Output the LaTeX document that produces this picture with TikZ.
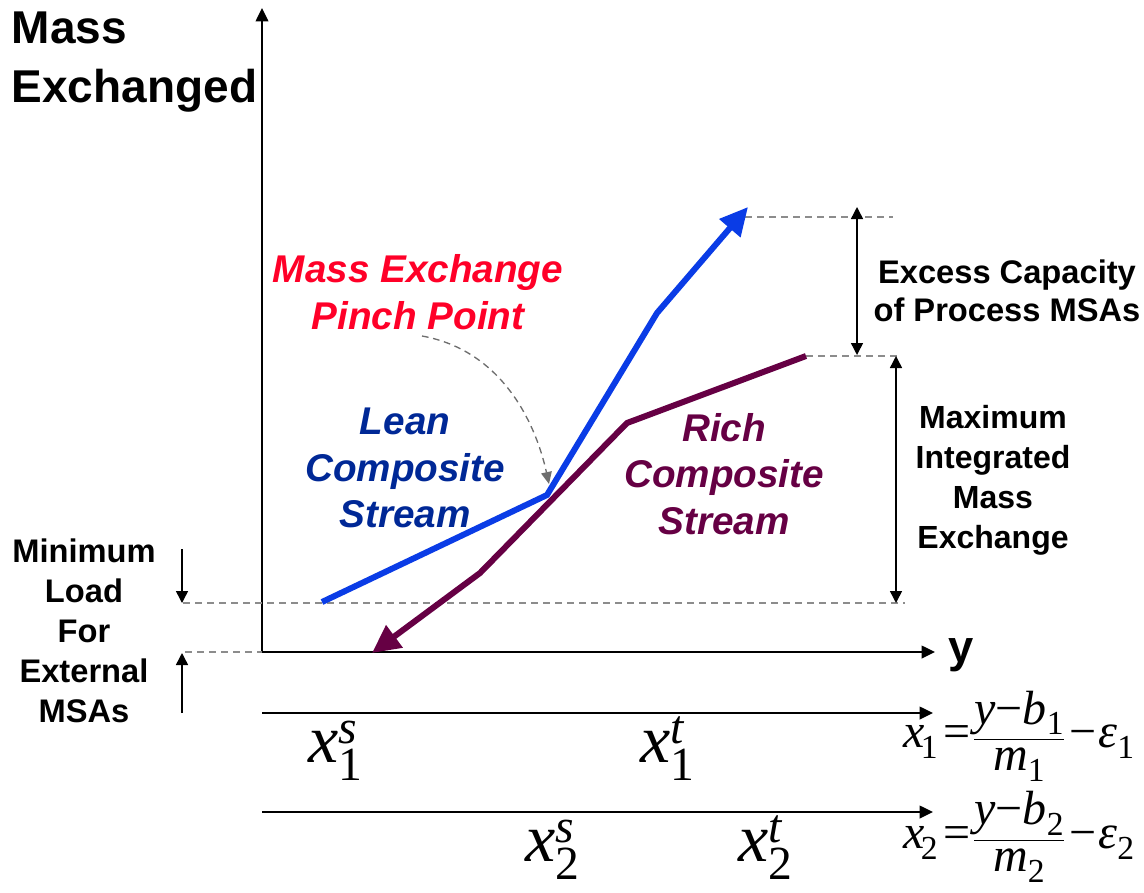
\documentclass[tikz,border=0pt]{standalone}
\usepackage{amsmath}
\usepackage{fontspec}
\setmainfont{Liberation Sans}
\newfontfamily\tnr{Liberation Serif}
\usetikzlibrary{arrows.meta}
\newcommand\txi[1]{\text{\tnr\itshape #1}}
\newcommand\txu[1]{\text{\tnr\upshape #1}}
\definecolor{leanline}{RGB}{10,60,230}
\definecolor{richline}{RGB}{102,0,68}
\definecolor{leantext}{RGB}{0,40,150}
\definecolor{pinchred}{RGB}{255,0,40}
\definecolor{dashgray}{RGB}{140,140,140}
\definecolor{pinchgray}{RGB}{110,110,110}
\tikzset{
  axis/.style={line width=1.1pt,-{Triangle[length=10pt,width=9.5pt]}},
  guide/.style={dashgray,line width=1.1pt,dash pattern=on 5.5pt off 3.5pt},
  dimarrow/.style={line width=1.1pt,{Triangle[length=9pt,width=9pt]}-{Triangle[length=9pt,width=9pt]}},
  onearrow/.style={line width=1.1pt,-{Triangle[length=9pt,width=9pt]}},
  stream/.style={line width=4.5pt,line join=miter,-{Triangle[length=21pt,width=20pt]}},
  pinch/.style={pinchgray,line width=1pt,dash pattern=on 5pt off 3.5pt,-{Triangle[length=9pt,width=8pt]}},
  lbl/.style={align=center,font=\bfseries\fontsize{24.5}{30}\selectfont},
  stxt/.style={align=center,font=\bfseries\itshape\fontsize{29}{35}\selectfont},
  mlabel/.style={anchor=base west,font=\fontsize{51}{51}\selectfont,inner sep=0pt},
  meq/.style={anchor=west,font=\fontsize{36}{36}\selectfont,inner sep=0pt}
}
\begin{document}
\begin{tikzpicture}[x=0.75pt,y=-0.75pt]
\useasboundingbox (0,0) rectangle (1144,892);
% axes
\coordinate (O) at (262,652);
\coordinate (Ytop) at (262,8);
\coordinate (Xend) at (935,652);
\coordinate (A1s) at (262,713);
\coordinate (A1e) at (933,713);
\coordinate (A2s) at (262,812);
\coordinate (A2e) at (933,812);
\draw[axis] (O) -- (Ytop);
\draw[axis] (O) -- (Xend);
\draw[axis] (A1s) -- (A1e);
\draw[axis] (A2s) -- (A2e);
\node[font=\bfseries\fontsize{34}{34}\selectfont] (ylab) at (961,655) {y};
% guide lines
\coordinate (G1a) at (745,217); \coordinate (G1b) at (893,217);
\coordinate (G2a) at (806,356); \coordinate (G2b) at (900,356);
\coordinate (G3a) at (183,603); \coordinate (G3b) at (905,603);
\coordinate (G4a) at (185,652);
\draw[guide] (G1a) -- (G1b);
\draw[guide] (G2a) -- (G2b);
\draw[guide] (G3a) -- (G3b);
\draw[guide] (G4a) -- (O);
% streams
\coordinate (L0) at (322,602); \coordinate (L1) at (547,495);
\coordinate (L2) at (657,313); \coordinate (L3) at (748,207);
\coordinate (R0) at (806,356); \coordinate (R1) at (627,423);
\coordinate (R2) at (480,573); \coordinate (R3) at (372,653);
\draw[stream,leanline] (L0) -- (L1) -- (L2) -- (L3);
\draw[stream,richline] (R0) -- (R1) -- (R2) -- (R3);
% pinch pointer
\coordinate (P0) at (422,336);
\coordinate (P1) at (549,484);
\draw[pinch] (P0) .. controls (500,350) and (535,420) .. (P1);
% dimension arrows
\coordinate (D1a) at (857,207); \coordinate (D1b) at (857,355);
\coordinate (D2a) at (896,356); \coordinate (D2b) at (896,603);
\draw[dimarrow] (D1a) -- (D1b);
\draw[dimarrow] (D2a) -- (D2b);
\coordinate (M1a) at (182,549); \coordinate (M1b) at (182,603);
\coordinate (M2a) at (182,713); \coordinate (M2b) at (182,653);
\draw[onearrow] (M1a) -- (M1b);
\draw[onearrow] (M2a) -- (M2b);
% texts
\node[anchor=west,align=left,font=\bfseries\fontsize{34.5}{44}\selectfont] (ytitle) at (7,62) {Mass\\Exchanged};
\node[stxt,text=pinchred] (pinchtxt) at (418,292) {Mass Exchange\\Pinch Point};
\node[stxt,text=leantext] (leantxt) at (405,468) {Lean\\Composite\\Stream};
\node[stxt,text=richline] (richtxt) at (724,474) {Rich\\Composite\\Stream};
\node[lbl,font=\bfseries\fontsize{24.5}{28.5}\selectfont] (excess) at (1007,291) {Excess Capacity\\of Process MSAs};
\node[lbl,font=\bfseries\fontsize{24}{30}\selectfont] (maxint) at (993,480) {Maximum\\Integrated\\Mass\\Exchange};
\node[lbl] (minload) at (84,631) {Minimum\\Load\\For\\External\\MSAs};
% math labels
\node[mlabel] (x1s) at (308,762) {$\txi{x}^{\txi{s}}_{\txu{1}}$};
\node[mlabel] (x1t) at (640,762) {$\txi{x}^{\txi{t}}_{\txu{1}}$};
\node[mlabel] (x2s) at (525,861) {$\txi{x}^{\txi{s}}_{\txu{2}}$};
\node[mlabel] (x2t) at (738,861) {$\txi{x}^{\txi{t}}_{\txu{2}}$};
\node[meq] (eq1) at (903,736) {$\txi{x}_{\mkern-2mu\txu{1}}\mkern3mu\txu{=}\mkern1mu\dfrac{\txi{y}\txu{−}\txi{b}_{\txu{1}}}{\txi{m}_{\txu{1}}}\mkern2mu\txu{−}\mkern1mu\txi{ε}_{\txu{1}}$};
\node[meq] (eq2) at (903,837) {$\txi{x}_{\mkern-2mu\txu{2}}\mkern3mu\txu{=}\mkern1mu\dfrac{\txi{y}\txu{−}\txi{b}_{\txu{2}}}{\txi{m}_{\txu{2}}}\mkern2mu\txu{−}\mkern1mu\txi{ε}_{\txu{2}}$};
\end{tikzpicture}
\end{document}
